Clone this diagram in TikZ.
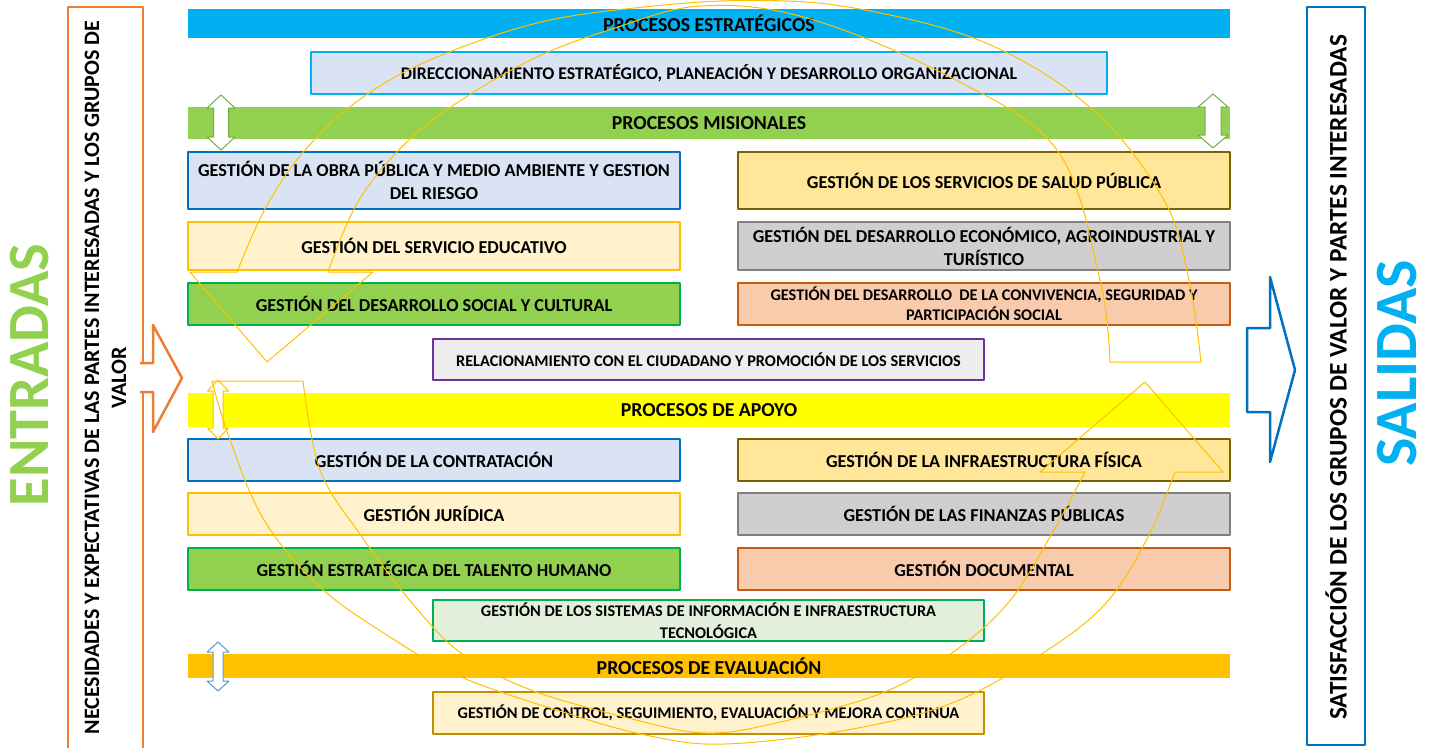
\documentclass[tikz,border=0pt]{standalone}
\usepackage{fontspec}
\setmainfont{Carlito}
\definecolor{cian}{HTML}{00B0F0}
\definecolor{verde}{HTML}{92D050}
\definecolor{verdeosc}{HTML}{00B050}
\definecolor{azul}{HTML}{0070C0}
\definecolor{lavanda}{HTML}{DAE3F3}
\definecolor{crema}{HTML}{FFF2CC}
\definecolor{dorado}{HTML}{FFC000}
\definecolor{amarillo}{HTML}{FFFF00}
\definecolor{ocre}{HTML}{FFE699}
\definecolor{cafe}{HTML}{7F6000}
\definecolor{gris}{HTML}{D0CECE}
\definecolor{grisosc}{HTML}{7F7F7F}
\definecolor{salmon}{HTML}{F8CBAD}
\definecolor{teja}{HTML}{C55A11}
\definecolor{grisclaro}{HTML}{EDEDED}
\definecolor{morado}{HTML}{7030A0}
\definecolor{verdeclaro}{HTML}{E2EFDA}
\definecolor{oro}{HTML}{BF9000}
\definecolor{naranja}{HTML}{ED7D31}
\definecolor{azulflecha}{HTML}{5B9BD5}
\definecolor{verdeflecha}{HTML}{70AD47}
\begin{document}
\begin{tikzpicture}[x=1pt, y=-1pt, line join=round,
		barra/.style={minimum width=1042pt, inner sep=0pt, font=\bfseries\fontsize{19.8}{24}\selectfont},
		caja/.style={draw, line width=2pt, minimum width=492pt, inner sep=0pt, align=center,
			font=\bfseries\fontsize{18.2}{23}\selectfont},
		cajamedia/.style={caja, minimum width=551pt, font=\bfseries\fontsize{16.3}{21}\selectfont},
		marco/.style={draw, line width=2.5pt, rotate=90, inner sep=0pt},
		vertical/.style={rotate=90, inner sep=0pt, align=center},
		anillo/.style={draw=dorado, line width=1pt}]
	\useasboundingbox (0,0) rectangle (1434,747);
	% entradas y salidas
	\node[vertical, text=verde, font=\bfseries\fontsize{58.4}{60}\selectfont] (entradas) at (30,375) {ENTRADAS};
	\node[marco, draw=naranja, minimum width=753pt, minimum height=75pt] (marcoent) at (105.5,383.5) {};
	\node[vertical, font=\bfseries\fontsize{22}{27}\selectfont] (necesidades) at (105.5,377.5)
		{NECESIDADES Y EXPECTATIVAS DE LAS PARTES INTERESADAS Y LOS GRUPOS DE\\VALOR};
	\draw[fill=white, draw=naranja, line width=2.5pt] (140,363) -- (153,363) -- (153,325) -- (182,378) -- (153,432) -- (153,392) -- (140,392);
	\node[marco, draw=azul, minimum width=738pt, minimum height=58pt] (marcosal) at (1336,376) {};
	\node[vertical, font=\bfseries\fontsize{25.3}{30}\selectfont] (satisfaccion) at (1336,377.5)
		{SATISFACCIÓN DE LOS GRUPOS DE VALOR Y PARTES INTERESADAS};
	\draw[fill=white, draw=azul, line width=2.5pt] (1247,328) -- (1270,328) -- (1270,277) -- (1295,370) -- (1270,462) -- (1270,412) -- (1247,412) -- cycle;
	\node[vertical, text=cian, font=\bfseries\fontsize{60}{62}\selectfont] (salidas) at (1397,363.5) {SALIDAS};
	% estrategicos
	\node[barra, fill=cian, minimum height=29pt] (estrategicos) at (709,23.5) {PROCESOS ESTRATÉGICOS};
	\node[caja, fill=lavanda, draw=cian, minimum width=796pt, minimum height=42pt, font=\bfseries\fontsize{17.8}{22}\selectfont] (direccionamiento) at (709,73)
		{DIRECCIONAMIENTO ESTRATÉGICO, PLANEACIÓN Y DESARROLLO ORGANIZACIONAL};
	% misionales
	\node[barra, fill=verde, minimum height=32pt] (misionales) at (709,123) {PROCESOS MISIONALES};
	\node[caja, fill=lavanda, draw=azul, minimum height=57pt] (obra) at (434,180.5)
		{GESTIÓN DE LA OBRA PÚBLICA Y MEDIO AMBIENTE Y GESTION\\DEL RIESGO};
	\node[caja, fill=crema, draw=dorado, minimum height=48pt] (educativo) at (434,246) {GESTIÓN DEL SERVICIO EDUCATIVO};
	\node[caja, fill=verde, draw=verdeosc, minimum height=42pt] (social) at (434,304) {GESTIÓN DEL DESARROLLO SOCIAL Y CULTURAL};
	\node[caja, fill=ocre, draw=cafe, minimum height=57pt] (salud) at (984,180.5) {GESTIÓN DE LOS SERVICIOS DE SALUD PÚBLICA};
	\node[caja, fill=gris, draw=grisosc, minimum height=48pt] (economico) at (984,246)
		{GESTIÓN DEL DESARROLLO ECONÓMICO, AGROINDUSTRIAL Y\\TURÍSTICO};
	\node[caja, fill=salmon, draw=teja, minimum height=42pt, font=\bfseries\fontsize{16.3}{20}\selectfont] (convivencia) at (984,304)
		{GESTIÓN DEL DESARROLLO~~DE LA CONVIVENCIA, SEGURIDAD Y\\PARTICIPACIÓN SOCIAL};
	\node[cajamedia, fill=grisclaro, draw=morado, minimum height=41pt] (relacionamiento) at (708.5,359.5)
		{RELACIONAMIENTO CON EL CIUDADANO Y PROMOCIÓN DE LOS SERVICIOS};
	% apoyo
	\node[barra, fill=amarillo, minimum height=34pt] (apoyo) at (709,410) {PROCESOS DE APOYO};
	\node[caja, fill=lavanda, draw=azul, minimum height=42pt] (contratacion) at (434,460) {GESTIÓN DE LA CONTRATACIÓN};
	\node[caja, fill=crema, draw=dorado, minimum height=42pt] (juridica) at (434,514) {GESTIÓN JURÍDICA};
	\node[caja, fill=verde, draw=verdeosc, minimum height=42pt] (talento) at (434,569) {GESTIÓN ESTRATÉGICA DEL TALENTO HUMANO};
	\node[caja, fill=ocre, draw=cafe, minimum height=42pt] (infraestructura) at (984,460) {GESTIÓN DE LA INFRAESTRUCTURA FÍSICA};
	\node[caja, fill=gris, draw=grisosc, minimum height=42pt] (finanzas) at (984,514) {GESTIÓN DE LAS FINANZAS PÚBLICAS};
	\node[caja, fill=salmon, draw=teja, minimum height=42pt] (documental) at (984,569) {GESTIÓN DOCUMENTAL};
	\node[cajamedia, fill=verdeclaro, draw=verdeosc, minimum height=41pt, font=\bfseries\fontsize{16.3}{22}\selectfont] (sistemas) at (708.5,620.5)
		{GESTIÓN DE LOS SISTEMAS DE INFORMACIÓN E INFRAESTRUCTURA\\TECNOLÓGICA};
	% evaluacion
	\node[barra, fill=dorado, minimum height=24pt] (evaluacion) at (709,666) {PROCESOS DE EVALUACIÓN};
	\node[cajamedia, fill=crema, draw=oro, minimum height=42pt] (control) at (708.5,713)
		{GESTIÓN DE CONTROL, SEGUIMIENTO, EVALUACIÓN Y MEJORA CONTINUA};
	% flechas dobles
	\foreach \cx/\ya/\yb/\ha/\sa/\lc/\col in {221/95/150/14/7.5/13/verdeflecha, 1213/94/148/15/8/13/verdeflecha,
		218/380/439/10.5/5/11/dorado, 218/642/691/11/5/10/azulflecha}
	\draw[fill=white, draw=\col, line width=1pt] (\cx,\ya) -- (\cx+\ha,\ya+\lc) -- (\cx+\sa,\ya+\lc) -- (\cx+\sa,\yb-\lc)
		-- (\cx+\ha,\yb-\lc) -- (\cx,\yb) -- (\cx-\ha,\yb-\lc) -- (\cx-\sa,\yb-\lc) -- (\cx-\sa,\ya+\lc) -- (\cx-\ha,\ya+\lc) -- cycle;
	% flechas circulares
	\draw[anillo] plot[smooth, tension=0.6] coordinates {(1201,362) (1189,280) (1164,200) (1093,110) (986,43) (854,8) (750,0.5)
			(644,7) (537,23) (430,60) (359,100) (305,150) (266,207) (237,272)}
		-- (190,272) -- (267,362) -- (373,272) -- (328,272)
		-- plot[smooth, tension=0.6] coordinates {(328,272) (359,200) (409,140) (466,97) (537,57) (609,30) (700,6) (807,18)
			(950,77) (1057,150) (1100,280) (1110,362)} -- cycle;
	\draw[anillo] plot[smooth, tension=0.6] coordinates {(212,381) (229,437) (264,520) (320,587) (390,637) (461,677) (566,713)
			(650,736) (725,744) (847,730) (952,703) (1043,653) (1106,603) (1148,537) (1175,472)}
		-- (1223,472) -- (1145,382) -- (1040,472) -- (1085,472)
		-- plot[smooth, tension=0.6] coordinates {(1085,472) (1050,537) (1008,603) (952,653) (882,693) (776,723) (706,733)
			(636,720) (531,690) (461,653) (412,603) (362,537) (320,470) (303,381)} -- cycle;
\end{tikzpicture}
\end{document}
